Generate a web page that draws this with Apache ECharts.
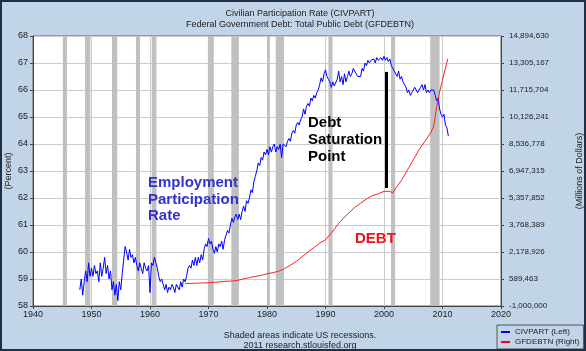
<!DOCTYPE html>
<html>
<head>
<meta charset="utf-8">
<script src="https://cdn.jsdelivr.net/npm/echarts@6/dist/echarts.min.js"></script>
<style>
  html, body { margin: 0; padding: 0; }
  #chart { width: 586px; height: 351px; }
</style>
</head>
<body>
<div id="chart"></div>
<script>
// CIVPART, quarterly readings from 1948 Q1
const civStart = 1948;
const civStep = 0.25;
const civpart = [
  58.6, 59.0, 58.4, 58.9,   59.3, 58.9, 59.6, 59.1,   59.4, 59.1, 59.5, 59.2,
  59.3, 58.9, 59.6, 59.1,   59.4, 59.8, 59.2, 59.5,   59.0, 59.3, 58.6, 58.9,
  58.4, 58.8, 58.2, 58.9,   58.6, 59.2, 59.7, 60.2,   60.0, 59.7, 60.1, 59.8,
  59.9, 59.6, 59.8, 59.5,   59.3, 59.6, 59.4, 59.2,   59.6, 59.4, 59.3, 59.5,
  58.5, 59.6, 59.5, 59.8,   59.6, 59.4, 59.1, 58.9,   59.0, 58.8, 58.6, 58.8,
  58.5, 58.7, 58.6, 58.8,   58.7, 58.5, 58.8, 58.7,   58.6, 58.9, 58.7, 59.0,
  58.9, 59.1, 59.4, 59.5,   59.4, 59.7, 59.5, 59.8,   59.5, 59.8, 59.6, 59.9,
  59.7, 60.1, 60.3, 60.2,   60.5, 60.3, 60.4, 60.1,   59.95, 60.2, 60.0, 60.3,
  60.2, 60.4, 60.1, 60.45,  60.5, 60.8, 60.7, 61.0,   61.25, 61.1, 61.3, 61.4,
  61.2, 61.4, 61.2, 61.5,   61.7, 61.5, 61.9, 61.8,   62.0, 62.3, 62.2, 62.6,
  62.8, 63.0, 63.3, 63.2,   63.5, 63.4, 63.7, 63.6,   63.8, 63.6, 63.9, 63.7,
  63.9, 64.0, 63.7, 63.9,   63.8, 64.0, 63.5, 64.0,   64.0, 63.9, 64.1, 64.2,
  64.1, 64.4, 64.5, 64.4,   64.7, 64.8, 64.7, 64.9,   65.0, 65.3, 65.1, 65.4,
  65.5, 65.4, 65.7, 65.6,   65.8, 65.7, 65.9, 66.0,   66.2, 66.45, 66.3, 66.6,
  66.75, 66.5, 66.4, 66.3,  66.1, 66.3, 66.15, 66.2,  66.4, 66.7, 66.3, 66.5,
  66.2, 66.6, 66.3, 66.5,   66.7, 66.5, 66.6, 66.8,   66.85, 66.6, 66.5, 66.45,
  66.5, 66.8, 66.7, 67.0,   66.9, 67.1, 67.0, 67.1,   67.05, 67.15, 67.0, 67.2,
  67.1, 67.05, 67.2, 67.1,  67.25, 67.1, 67.2, 67.05, 67.15, 66.9, 66.8, 66.7,
  66.6, 66.5, 66.7, 66.4,   66.5, 66.3, 66.3, 66.1,   65.9, 66.0, 65.8, 65.9,
  65.9, 66.1, 66.0, 65.9,   66.0, 66.1, 66.2, 66.0,   66.2, 65.9, 66.0, 65.9,
  66.0, 65.95, 66.0, 65.8,  65.6, 65.7, 65.3, 65.1,   65.0, 65.1, 64.7, 64.6,
  64.3
];

// GFDEBTN, millions of dollars
const debtYears = [
  1966, 1967, 1968, 1969, 1970, 1971, 1972, 1973, 1974, 1975, 1976, 1977,
  1978, 1979, 1980, 1981, 1982, 1983, 1984, 1985, 1986, 1987, 1988, 1989,
  1990, 1991, 1992, 1993, 1994, 1995, 1996, 1997, 1998, 1999, 2000, 2001,
  2001.5, 2002, 2003, 2004, 2005, 2006, 2007, 2008, 2008.5, 2009, 2009.5,
  2010, 2010.5, 2010.9
];
const debtValues = [
  321000, 330000, 345000, 355000, 370000, 395000, 425000, 455000, 470000, 510000, 600000, 670000,
  740000, 800000, 900000, 960000, 1050000, 1200000, 1400000, 1620000, 1900000, 2180000, 2430000, 2700000,
  2900000, 3300000, 3750000, 4150000, 4480000, 4800000, 5050000, 5300000, 5500000, 5600000, 5750000, 5750000,
  5650000, 5940000, 6400000, 7000000, 7600000, 8200000, 8700000, 9200000, 9600000, 10700000, 11600000,
  12300000, 13000000, 13550000
];

// NBER recessions [start, end]
const recessions = [
  [1945.1, 1945.8], [1948.9, 1949.8], [1953.5, 1954.4], [1957.6, 1958.3],
  [1960.3, 1961.1], [1969.9, 1970.9], [1973.9, 1975.2], [1980.0, 1980.5],
  [1981.5, 1982.9], [1990.5, 1991.2], [2001.2, 2001.9], [2007.9, 2009.5]
];

const leftTicks = [58, 59, 60, 61, 62, 63, 64, 65, 66, 67, 68];
const rightTicks = [-1000000, 589463, 2178926, 3768389, 5357852, 6947315,
  8536778, 10126241, 11715704, 13305167, 14894630];
const yearTicks = [1940, 1950, 1960, 1970, 1980, 1990, 2000, 2010, 2020];

const civData = civpart.map((v, i) => [civStart + i * civStep, v]);
const debtData = debtYears.map((y, i) => [y, debtValues[i]]);

// dotted light blue backdrop
const tex = document.createElement('canvas');
tex.width = 2; tex.height = 2;
const tctx = tex.getContext('2d');
tctx.fillStyle = '#b7cee7'; tctx.fillRect(0, 0, 2, 2);
tctx.fillStyle = '#c8dbef'; tctx.fillRect(0, 0, 1, 1); tctx.fillRect(1, 1, 1, 1);

const chart = echarts.init(document.getElementById('chart'));
const fontFam = 'Liberation Sans, Arial, sans-serif';

const option = {
  backgroundColor: { image: tex, repeat: 'repeat' },
  animation: false,
  textStyle: { fontFamily: fontFam },
  title: [
    {
      text: 'Civilian Participation Rate (CIVPART)',
      subtext: 'Federal Government Debt: Total Public Debt (GFDEBTN)',
      left: 295, textAlign: 'center', top: 4, itemGap: 2,
      textStyle: { fontSize: 9, fontWeight: 'normal', color: '#222' },
      subtextStyle: { fontSize: 9, color: '#222' }
    },
    {
      text: 'Shaded areas indicate US recessions.',
      subtext: '2011 research.stlouisfed.org',
      left: 295, textAlign: 'center', top: 326, itemGap: 1,
      textStyle: { fontSize: 9, fontWeight: 'normal', color: '#222' },
      subtextStyle: { fontSize: 9, color: '#222' }
    }
  ],
  legend: {
    data: ['CIVPART (Left)', 'GFDEBTN (Right)'],
    orient: 'vertical',
    left: 497, top: 325,
    itemWidth: 9, itemHeight: 2, itemGap: 2,
    icon: 'rect',
    padding: [3, 4, 3, 4],
    borderColor: '#555', borderWidth: 1,
    textStyle: { fontSize: 8, color: '#222' }
  },
  grid: {
    left: 33, right: 85, top: 36, bottom: 45,
    outerBoundsMode: 'none',
    show: true, backgroundColor: '#ffffff', borderColor: '#666', borderWidth: 1
  },
  xAxis: {
    type: 'value', min: 1940, max: 2020, interval: 10,
    axisLine: { onZero: false, lineStyle: { color: '#444' } },
    axisTick: { length: 3, lineStyle: { color: '#444' }, customValues: yearTicks },
    axisLabel: { fontSize: 9, color: '#222', margin: 4, customValues: yearTicks, formatter: v => String(v) },
    splitLine: { show: true, lineStyle: { color: '#cccccc' } }
  },
  yAxis: [
    {
      type: 'value', min: 58, max: 68, interval: 1,
      axisLine: { show: true, onZero: false, lineStyle: { color: '#444' } },
      axisTick: { show: true, length: 3, lineStyle: { color: '#444' }, customValues: leftTicks },
      axisLabel: { fontSize: 9, color: '#222', margin: 5, customValues: leftTicks },
      splitLine: { show: true, lineStyle: { color: '#cccccc' } }
    },
    {
      type: 'value', min: -1000000, max: 14894630, interval: 1589463,
      position: 'right',
      name: '(Millions of Dollars)', nameLocation: 'middle', nameGap: 74,
      nameRotate: 90,
      nameTextStyle: { fontSize: 9, color: '#222' },
      axisLine: { show: true, onZero: false, lineStyle: { color: '#444' } },
      axisTick: { show: true, length: 3, lineStyle: { color: '#444' }, customValues: rightTicks },
      axisLabel: {
        fontSize: 8, color: '#222', margin: 8, customValues: rightTicks,
        formatter: v => Math.round(v).toLocaleString('en-US')
      },
      splitLine: { show: false }
    }
  ],
  series: [
    {
      name: 'recessions',
      type: 'line',
      data: [],
      silent: true,
      markArea: {
        silent: true,
        itemStyle: { color: '#c0c0c0', opacity: 1 },
        data: recessions.map(r => [{ xAxis: r[0] }, { xAxis: r[1] }])
      }
    },
    {
      name: 'CIVPART (Left)',
      type: 'line',
      yAxisIndex: 0,
      data: civData,
      showSymbol: false,
      color: '#0000ff',
      lineStyle: { width: 1, color: '#0000ff' },
      z: 3,
      markLine: {
        silent: true,
        symbol: 'none',
        label: { show: false },
        lineStyle: { color: '#000', width: 3, type: 'solid' },
        data: [[{ coord: [2000.4, 66.67] }, { coord: [2000.4, 62.37] }]]
      }
    },
    {
      name: 'GFDEBTN (Right)',
      type: 'line',
      yAxisIndex: 1,
      data: debtData,
      showSymbol: false,
      color: '#ff0000',
      lineStyle: { width: 1, color: '#ff2020' },
      z: 3
    }
  ],
  graphic: [
    {
      type: 'text', x: 9, y: 171, rotation: Math.PI / 2, z: 10,
      style: {
        text: '(Percent)', fill: '#222', font: '9px ' + fontFam,
        align: 'center', verticalAlign: 'middle'
      }
    },
    {
      type: 'text', left: 148, top: 175, z: 10,
      style: {
        text: 'Employment\nParticipation\nRate', fill: '#3333cc',
        font: 'bold 15px ' + fontFam, lineHeight: 16.5
      }
    },
    {
      type: 'text', left: 308, top: 114, z: 10,
      style: {
        text: 'Debt\nSaturation\nPoint', fill: '#000',
        font: 'bold 15px ' + fontFam, lineHeight: 17
      }
    },
    {
      type: 'text', left: 355, top: 231, z: 10,
      style: { text: 'DEBT', fill: '#e8141e', font: 'bold 15px ' + fontFam }
    },
    {
      type: 'rect', z: 20, silent: true,
      shape: { x: 1, y: 1, width: 584, height: 349 },
      style: { fill: 'none', stroke: '#1f2f45', lineWidth: 2 }
    }
  ]
};

chart.setOption(option);
</script>
</body>
</html>
